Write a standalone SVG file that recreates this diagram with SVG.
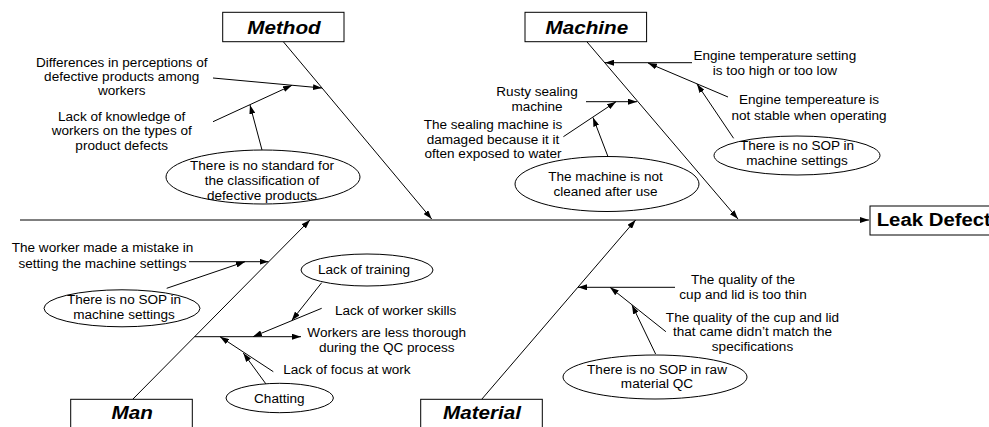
<svg xmlns="http://www.w3.org/2000/svg" width="989" height="427" viewBox="0 0 989 427">
<defs>
<style>
.t{font-family:"Liberation Sans",Arial,sans-serif;font-size:12px;fill:#000}
.c{text-anchor:middle}
.lb{font-family:"Liberation Sans",Arial,sans-serif;font-size:18px;font-weight:bold;font-style:italic;text-anchor:middle;fill:#000}
.ld{font-family:"Liberation Sans",Arial,sans-serif;font-size:18.5px;font-weight:bold;fill:#000}
.ln{stroke:#000;stroke-width:1;fill:none}
.ar{marker-end:url(#ah)}
.bx{fill:#fff;stroke:#000;stroke-width:1}
</style>
<marker id="ah" viewBox="0 0 9 6" refX="9" refY="3" markerWidth="9" markerHeight="6" orient="auto" markerUnits="userSpaceOnUse"><path d="M0,0 L9,3 L0,6 z" fill="#000"/></marker>
</defs>
<rect width="989" height="427" fill="#fff"/>

<g id="connectors">
<line class="ln ar" x1="20" y1="220" x2="869" y2="220" stroke-width="1.2"/>
<line class="ln ar" x1="283.3" y1="41.7" x2="431.7" y2="219"/>
<line class="ln ar" x1="586.8" y1="41.7" x2="738" y2="219"/>
<line class="ln ar" x1="132.7" y1="399.3" x2="310" y2="220"/>
<line class="ln ar" x1="481.7" y1="399.3" x2="635.6" y2="220"/>
<!-- Method -->
<line class="ln ar" x1="213" y1="78" x2="322" y2="88"/>
<line class="ln ar" x1="213" y1="121.7" x2="292" y2="85.3"/>
<line class="ln ar" x1="262" y1="150" x2="250" y2="105"/>
<!-- Machine -->
<line class="ln ar" x1="692" y1="62.7" x2="605" y2="62.7"/>
<line class="ln ar" x1="728" y1="97" x2="648" y2="63"/>
<line class="ln ar" x1="733.6" y1="138.3" x2="697" y2="84"/>
<line class="ln ar" x1="586" y1="101.7" x2="637" y2="101.7"/>
<line class="ln ar" x1="563.4" y1="136.7" x2="616" y2="101.7"/>
<line class="ln ar" x1="608" y1="156.7" x2="593" y2="117.5"/>
<!-- Man -->
<line class="ln ar" x1="189" y1="261.7" x2="268.5" y2="261.7"/>
<line class="ln ar" x1="166.7" y1="288.3" x2="245" y2="261.7"/>
<line class="ln ar" x1="194.6" y1="336.7" x2="301" y2="336.7"/>
<line class="ln ar" x1="321.7" y1="308.3" x2="253" y2="336.7"/>
<line class="ln ar" x1="321.7" y1="282.7" x2="291.7" y2="320.5"/>
<line class="ln ar" x1="273.3" y1="371.7" x2="220" y2="336.7"/>
<line class="ln ar" x1="266.7" y1="385" x2="243.3" y2="353"/>
<!-- Material -->
<line class="ln ar" x1="675" y1="287.3" x2="578" y2="287.3"/>
<line class="ln ar" x1="665.9" y1="331.7" x2="610" y2="287.3"/>
<line class="ln ar" x1="655.6" y1="354" x2="632" y2="305"/>
</g>

<g id="effect">
<rect class="bx" x="870" y="206" width="130" height="29"/>
<text class="ld" transform="translate(876.7,225.7) scale(1.1,1)">Leak Defect</text>
</g>

<g id="cat-method">
<rect class="bx" x="222.7" y="12.3" width="121.3" height="29.4"/>
<text class="lb" transform="translate(284,34) scale(1.15,1)">Method</text>
</g>
<g id="cat-machine">
<rect class="bx" x="525" y="12.3" width="121.6" height="29.4"/>
<text class="lb" transform="translate(586.8,34) scale(1.15,1)">Machine</text>
</g>
<g id="cat-man">
<rect class="bx" x="70.7" y="399.3" width="121.6" height="40"/>
<text class="lb" transform="translate(132.2,418.5) scale(1.15,1)">Man</text>
</g>
<g id="cat-material">
<rect class="bx" x="420.7" y="399.3" width="121.6" height="40"/>
<text class="lb" transform="translate(482,419) scale(1.15,1)">Material</text>
</g>

<g id="method-causes">
<text class="t c" transform="translate(121.7,67) scale(1.13,1)"><tspan x="0">Differences in perceptions of</tspan><tspan x="0" dy="14.2">defective products among</tspan><tspan x="0" dy="14.2">workers</tspan></text>
<text class="t c" transform="translate(121.7,121) scale(1.13,1)"><tspan x="0">Lack of knowledge of</tspan><tspan x="0" dy="14.5">workers on the types of</tspan><tspan x="0" dy="14.5">product defects</tspan></text>
</g>
<g id="method-root">
<ellipse class="bx" cx="263" cy="177" rx="97" ry="27"/>
<text class="t c" transform="translate(262,170) scale(1.13,1)"><tspan x="0">There is no standard for</tspan><tspan x="0" dy="15">the classification of</tspan><tspan x="0" dy="15">defective products</tspan></text>
</g>

<g id="machine-causes">
<text class="t c" transform="translate(774.8,60.3) scale(1.13,1)"><tspan x="0">Engine temperature setting</tspan><tspan x="0" dy="14.7">is too high or too low</tspan></text>
<text class="t c" transform="translate(809,104.3) scale(1.13,1)"><tspan x="0">Engine tempereature is</tspan><tspan x="0" dy="16">not stable when operating</tspan></text>
<text class="t c" transform="translate(537,96) scale(1.13,1)"><tspan x="0">Rusty sealing</tspan><tspan x="0" dy="15">machine</tspan></text>
<text class="t c" transform="translate(493,129.3) scale(1.13,1)"><tspan x="0">The sealing machine is</tspan><tspan x="0" dy="14.6">damaged because it it</tspan><tspan x="0" dy="14.6">often exposed to water</tspan></text>
</g>
<g id="machine-root-sop">
<ellipse class="bx" cx="797" cy="155.5" rx="83" ry="19.5"/>
<text class="t c" transform="translate(797,150) scale(1.13,1)"><tspan x="0">There is no SOP in</tspan><tspan x="0" dy="15">machine settings</tspan></text>
</g>
<g id="machine-root-clean">
<ellipse class="bx" cx="607" cy="184" rx="92" ry="27.5"/>
<text class="t c" transform="translate(605.5,181) scale(1.13,1)"><tspan x="0">The machine is not</tspan><tspan x="0" dy="15">cleaned after use</tspan></text>
</g>

<g id="man-causes">
<text class="t c" transform="translate(102.5,252) scale(1.13,1)"><tspan x="0">The worker made a mistake in</tspan><tspan x="0" dy="16.3">setting the machine settings</tspan></text>
<text class="t" transform="translate(335,315) scale(1.13,1)">Lack of worker skills</text>
<text class="t c" transform="translate(386.7,336.7) scale(1.13,1)"><tspan x="0">Workers are less thorough</tspan><tspan x="0" dy="15.5">during the QC process</tspan></text>
<text class="t" transform="translate(283.3,374) scale(1.13,1)">Lack of focus at work</text>
</g>
<g id="man-root-sop">
<ellipse class="bx" cx="122" cy="308.3" rx="78" ry="18.5"/>
<text class="t c" transform="translate(124,304.3) scale(1.13,1)"><tspan x="0">There is no SOP in</tspan><tspan x="0" dy="15">machine settings</tspan></text>
</g>
<g id="man-root-training">
<ellipse class="bx" cx="367" cy="270" rx="66" ry="16"/>
<text class="t c" transform="translate(364,273.5) scale(1.13,1)">Lack of training</text>
</g>
<g id="man-root-chatting">
<ellipse class="bx" cx="279.7" cy="398" rx="53.7" ry="14.7"/>
<text class="t c" transform="translate(279.3,402.5) scale(1.13,1)">Chatting</text>
</g>

<g id="material-causes">
<text class="t c" transform="translate(743,284.2) scale(1.13,1)"><tspan x="0">The quality of the</tspan><tspan x="0" dy="15">cup and lid is too thin</tspan></text>
<text class="t c" transform="translate(752.5,321.5) scale(1.13,1)"><tspan x="0">The quality of the cup and lid</tspan><tspan x="0" dy="14.7">that came didn’t match the</tspan><tspan x="0" dy="14.7">specifications</tspan></text>
</g>
<g id="material-root">
<ellipse class="bx" cx="655" cy="377" rx="92" ry="22"/>
<text class="t c" transform="translate(657,373.5) scale(1.13,1)"><tspan x="0">There is no SOP in raw</tspan><tspan x="0" dy="15">material QC</tspan></text>
</g>
</svg>
